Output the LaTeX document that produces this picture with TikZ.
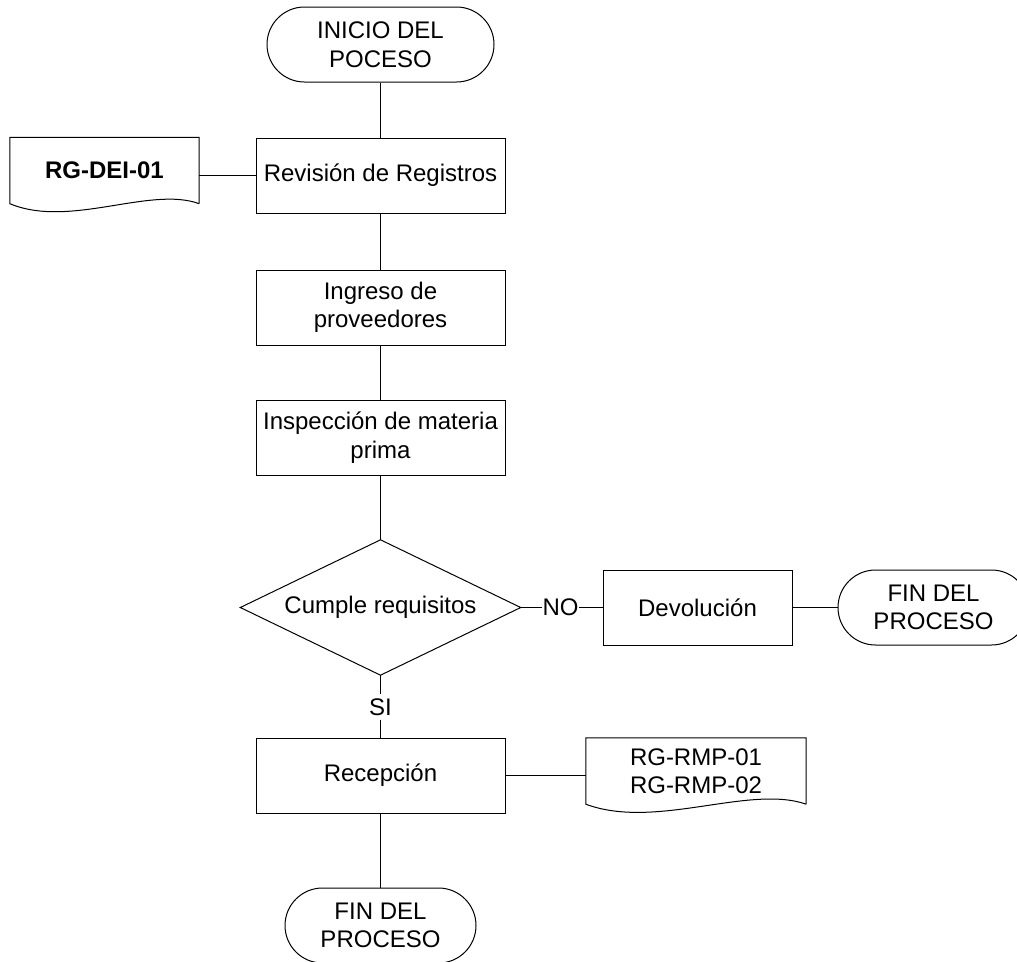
\documentclass[tikz,border=0pt]{standalone}
\usepackage{fontspec}
\setmainfont{Liberation Sans}
\usetikzlibrary{shapes.geometric,shapes.misc}

\begin{document}
\begin{tikzpicture}[x=1pt,y=-1pt,font=\fontsize{24}{28.5}\selectfont,
   every node/.style={align=center},
   proc/.style={draw,line width=1pt,minimum width=249pt,minimum height=75pt,inner sep=0pt},
   term/.style={draw,line width=1pt,rounded rectangle,minimum width=191pt,minimum height=75pt,inner sep=0pt},
   doc/.style={inner sep=0pt,minimum height=66pt},
   lbl/.style={inner xsep=0.5pt,inner ysep=4pt},
   link/.style={line width=1.8pt},
   outline/.style={line width=1pt}]
   \useasboundingbox (0,0) rectangle (1017,961);
   \node[term,minimum width=227pt] (start) at (380.5,44.5) {INICIO DEL\\POCESO};
   \node[proc] (rev) at (380.5,175.5) {Revisi\'on de Registros};
   \node[doc,minimum width=189pt] (doci) at (104.5,170.5) {\textbf{RG-DEI-01}};
   \draw[outline] (doci.south east) -- (doci.north east) -- (doci.north west) -- (doci.south west)
      .. controls +(60,25) and +(-49,-18) .. (doci.south east);
   \node[proc] (ing) at (380.5,307.5) {Ingreso de\\proveedores};
   \node[proc] (insp) at (380.5,437.5) {Inspecci\'on de materia\\prima};
   \node[minimum width=280pt,minimum height=135pt,inner sep=0pt] (dec) at (380.5,607.5) {Cumple requisitos};
   \draw[outline] (dec.north) -- (dec.east) -- (dec.south) -- (dec.west) -- cycle;
   \node[lbl] (no) at (560.5,607.5) {NO};
   \node[proc,minimum width=189pt] (dev) at (697.5,607.5) {Devoluci\'on};
   \node[term] (fini) at (933.5,607.5) {FIN DEL\\PROCESO};
   \node[lbl] (si) at (380.5,707) {SI};
   \node[proc] (rec) at (380.5,775.5) {Recepci\'on};
   \node[doc,minimum width=220pt] (docii) at (696,771) {RG-RMP-01\\RG-RMP-02};
   \draw[outline] (docii.south east) -- (docii.north east) -- (docii.north west) -- (docii.south west)
      .. controls +(70,26) and +(-57,-20) .. (docii.south east);
   \node[term] (finii) at (380.5,925.5) {FIN DEL\\PROCESO};

   \draw[link] (start) -- (rev);
   \draw[link] (doci.east |- rev.west) -- (rev.west);
   \draw[link] (rev) -- (ing);
   \draw[link] (ing) -- (insp);
   \draw[link] (insp) -- (dec.north);
   \draw[link] (dec.east) -- (no.west);
   \draw[link] (no.east) -- (dev.west);
   \draw[link] (dev) -- (fini);
   \draw[link] (dec.south) -- (si.north);
   \draw[link] (si.south) -- (rec.north);
   \draw[link] (rec.east) -- (rec.east -| docii.west);
   \draw[link] (rec) -- (finii);
\end{tikzpicture}
\end{document}
